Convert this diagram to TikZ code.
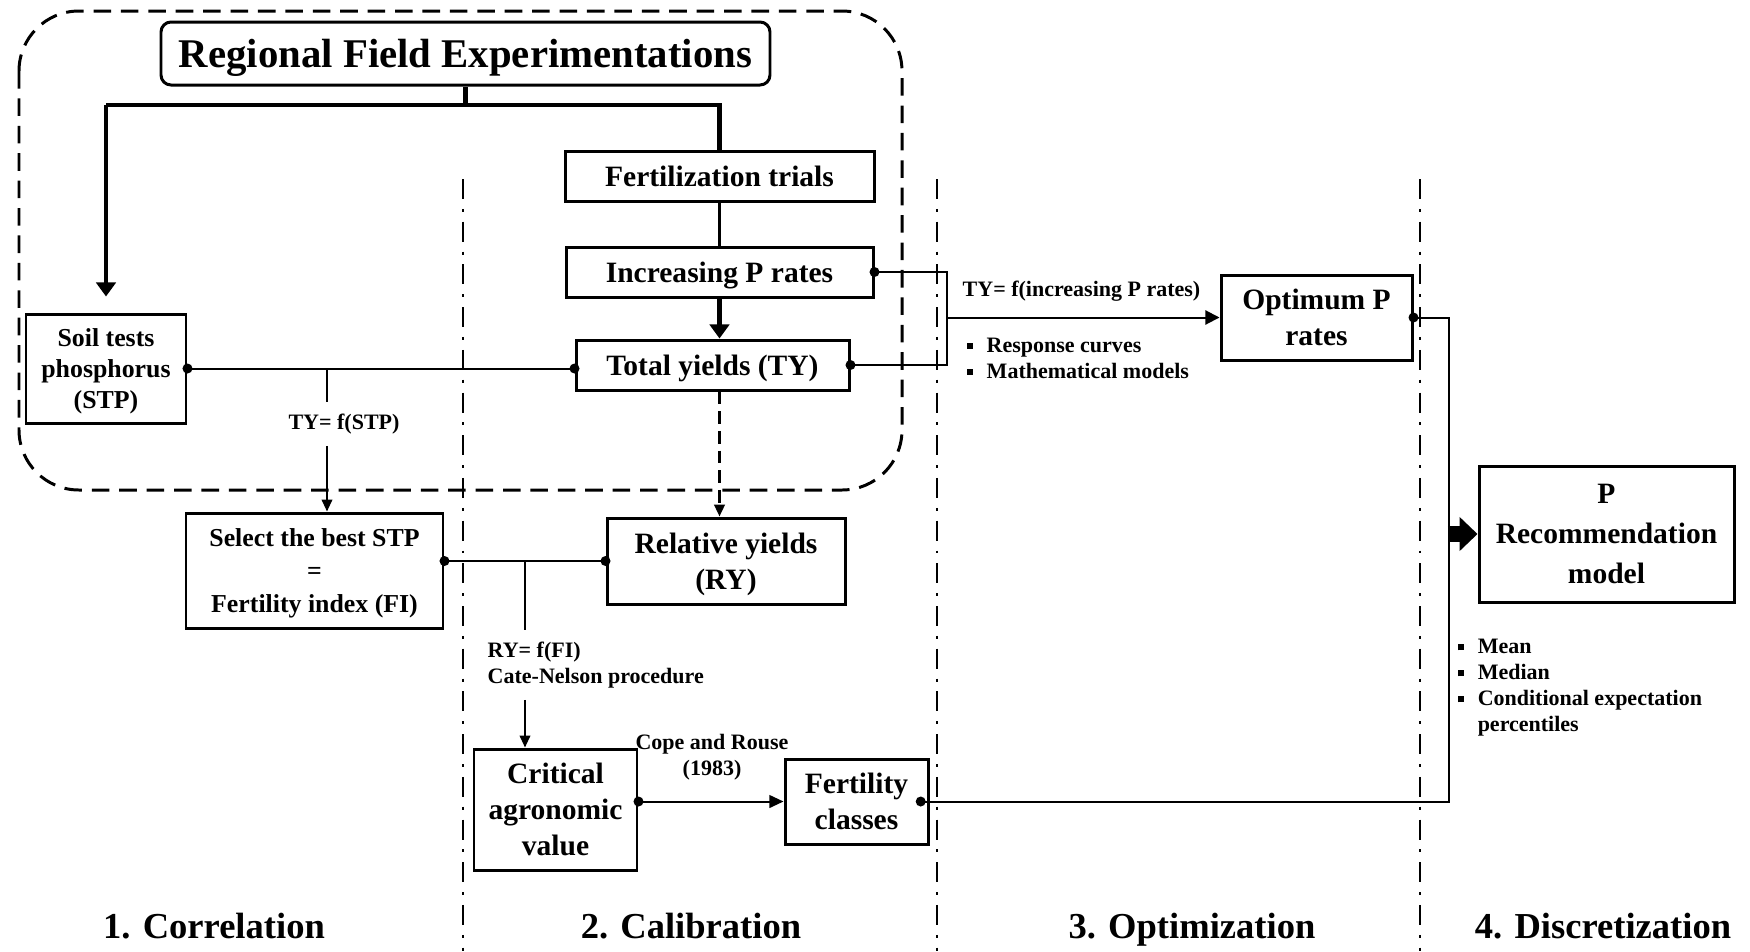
\documentclass[tikz,border=0pt]{standalone}
\usepackage{fontspec}
\setmainfont{Liberation Serif}
\usepackage{tikz}
\usetikzlibrary{arrows.meta}
\newcommand{\sqb}{\rule[0.35ex]{1.7pt}{1.7pt}\hspace{4pt}}
\tikzset{every picture/.style={x=0.1mm,y=-0.1mm},
  box/.style={draw=black, line width=0.85pt, fill=white, inner sep=0pt, align=center, text depth=0pt},
  bigtxt/.style={font=\fontsize{8.4}{10.2}\selectfont\bfseries},
  midtxt/.style={font=\fontsize{7.35}{8.9}\selectfont\bfseries},
  smalltxt/.style={font=\fontsize{6.26}{7.4}\selectfont\bfseries, inner sep=0pt},
  sectxt/.style={font=\fontsize{10.4}{12}\selectfont\bfseries, inner sep=0pt, text depth=0pt},
  thinline/.style={line width=0.57pt},
  thickline/.style={line width=1.25pt},
  arr/.style={-{Triangle[length=3.4pt,width=3pt]}},
  bigarr/.style={-{Triangle[length=4pt,width=5.5pt]}},
  dots/.style={{Circle[length=2.8pt]}-{Circle[length=2.8pt]}, shorten <=-1.4pt, shorten >=-1.4pt},
  sepline/.style={line width=0.7pt, dash pattern=on 5.7pt off 2.8pt on 0.85pt off 2.8pt},
  region/.style={line width=0.85pt, dash pattern=on 5pt off 2.8pt, rounded corners=6mm}}

\begin{document}
\begin{tikzpicture}
  \useasboundingbox (0,0) rectangle (1750,951);

  % stage separators
  \foreach \x in {463,937,1420}
    \draw[sepline] (\x,179) -- (\x,951);
  \draw[region] (19,11) rectangle (902,490);

  % boxes
  \node[box, rounded corners=1mm, minimum width=60.9mm, minimum height=6.3mm,
        font=\fontsize{11.6}{14}\selectfont\bfseries] (rfe) at (465.5,53.5) {Regional Field Experimentations};
  \node[box, bigtxt, minimum width=30.9mm, minimum height=5mm] (fert) at (719.5,176) {Fertilization trials};
  \node[box, bigtxt, minimum width=30.7mm, minimum height=5mm] (incr) at (719.5,272) {Increasing P rates};
  \node[box, bigtxt, minimum width=27.3mm, minimum height=5mm] (ty) at (712.5,365) {Total yields (TY)};
  \node[box, midtxt, minimum width=16mm, minimum height=10.9mm] (stp) at (106,368.5) {Soil tests\\phosphorus\\(STP)};
  \node[box, midtxt, font=\fontsize{7.35}{9.4}\selectfont\bfseries, minimum width=25.7mm, minimum height=11.5mm] (fi) at (314.5,570.5) {Select the best STP\\=\\Fertility index (FI)};
  \node[box, bigtxt, minimum width=23.8mm, minimum height=8.6mm] (ry) at (726,561) {Relative yields\\(RY)};
  \node[box, bigtxt, minimum width=16.3mm, minimum height=12.1mm] (cav) at (555.5,809.5) {Critical\\agronomic\\value};
  \node[box, bigtxt, minimum width=14.3mm, minimum height=8.5mm] (fc) at (856.5,801.5) {Fertility\\classes};
  \node[box, bigtxt, minimum width=19.1mm, minimum height=8.5mm] (opr) at (1316.5,317.5) {Optimum P\\rates};
  \node[box, bigtxt, font=\fontsize{8.4}{11.4}\selectfont\bfseries, minimum width=25.5mm, minimum height=13.6mm] (rec) at (1606.5,534) {P\\Recommendation\\model};

  % labels
  \node[smalltxt, inner ysep=1.1mm] (tystp) at (344,424) {TY= f(STP)};
  \node[smalltxt, align=left, anchor=west, inner ysep=1.1mm] (ryfi) at (487,665) {RY= f(FI)\\Cate-Nelson procedure};
  \node[smalltxt, align=center] (cope) at (712,757) {Cope and Rouse\\(1983)};
  \node[smalltxt, anchor=west] (tyinc) at (962,291) {TY= f(increasing P rates)};
  \node[smalltxt, align=left, anchor=west] (fitlist) at (966,358) {\sqb Response curves\\\sqb Mathematical models};
  \node[smalltxt, align=left, anchor=west] (statlist) at (1457,688) {\sqb Mean\\\sqb Median\\\sqb Conditional expectation\\\hspace*{5.7pt}percentiles};

  \node[sectxt] (sec1) at (214,926) {1. Correlation};
  \node[sectxt] (sec2) at (691,926) {2. Calibration};
  \node[sectxt] (sec3) at (1192,926) {3. Optimization};
  \node[sectxt] (sec4) at (1603,926) {4. Discretization};

  % connectors
  \coordinate (split) at (465.5,105);
  \coordinate (b1) at (327,368.5);
  \coordinate (b2) at (525,561);
  \coordinate (brk) at (947,317.5);
  \coordinate (bus) at (1449,534);

  \draw[thickline] (rfe.south) -- (split);
  \draw[thickline] (split -| stp.north) -- (split) -- (split -| fert.north) -- (fert.north);
  \draw[thickline, bigarr] (split -| stp.north) -- ([yshift=1.6mm]stp.north);
  \draw[line width=1pt] (fert.south) -- (incr.north);
  \draw[thickline, bigarr] (incr.south) -- (incr.south |- ty.north);

  \draw[thinline, dots] (stp.east) -- (stp.east -| ty.west);
  \draw[thinline] (b1) -- (b1 |- tystp.north);
  \draw[thinline, arr] (b1 |- tystp.south) -- (b1 |- fi.north);

  \draw[line width=0.7pt, dash pattern=on 3.6pt off 2pt, arr] (incr.south |- ty.south) -- (incr.south |- ry.north);
  \draw[thinline, dots] (ry.west -| fi.east) -- (ry.west);
  \draw[thinline] (b2) -- (b2 |- ryfi.north);
  \draw[thinline, arr] (b2 |- ryfi.south) -- (b2 |- cav.north);

  \draw[thinline, {Circle[length=2.8pt]}-{Triangle[length=4pt,width=3.6pt]}, shorten <=-1.4pt] (fc.west -| cav.east) -- (fc.west);

  \draw[thinline, dots] (incr.east) -- (incr.east -| brk) -- (ty.east -| brk) -- (ty.east);
  \draw[thinline, -{Triangle[length=4pt,width=4pt]}] (brk) -- (opr.west);

  \draw[thinline, dots] ([xshift=-2.5pt]fc.east) -- (fc.east -| bus) -- (bus |- opr.east) -- (opr.east);
  \draw[line width=4.3pt, -{Triangle[length=5.1pt,width=9.4pt]}] ([xshift=-0.3pt]bus) -- (rec.west);
\end{tikzpicture}
\end{document}
